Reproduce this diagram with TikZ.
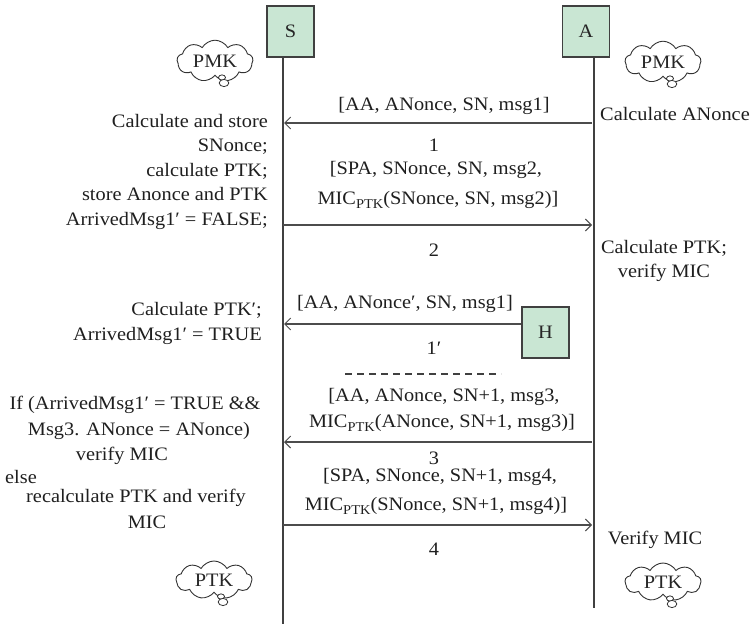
\documentclass[tikz,border=0pt]{standalone}
\usepackage{fontspec}
\setmainfont{Liberation Serif}[FakeStretch=1.07]
\usetikzlibrary{arrows.meta,shapes.symbols,calc}
\newcommand\myptk{\raisebox{-0.22em}{\fontsize{13.5}{13.5}\selectfont PTK}}
\tikzset{
  txt/.style={font=\fontsize{19}{24.5}\selectfont, text=black!88, inner sep=0pt},
  actor/.style={draw=black!75, line width=1.2pt, fill=boxgreen, minimum width=47pt, minimum height=51pt, inner sep=0pt, font=\fontsize{19}{24}\selectfont, text=black!85},
  life/.style={draw=black!75, line width=1.3pt},
  msg/.style={draw=black!70, line width=1.3pt, -{Straight Barb[length=6pt,width=12pt,line width=1pt]}},
  thought/.style={cloud, cloud puffs=9, cloud puff arc=120, aspect=2, draw=black!80, line width=0.9pt, minimum width=76pt, minimum height=38pt, inner sep=0pt, font=\fontsize{19}{24}\selectfont, text=black!85},
  bub/.style={draw=black!80, line width=0.8pt, fill=white}
}
\definecolor{boxgreen}{HTML}{C9E6D3}
\begin{document}
\begin{tikzpicture}[x=1pt,y=-1pt]
\useasboundingbox (0,0) rectangle (753,626);
% actors
\node[actor] (S) at (290.5,31.5) {S};
\node[actor] (A) at (586,31.5) {A};
% lifelines
\coordinate (Stop) at (283,57);
\coordinate (Sbot) at (283,624);
\coordinate (Atop) at (594,57);
\coordinate (Abot) at (594,608);
\draw[life] (Stop) -- (Sbot);
\draw[life] (Atop) -- (Abot);
% clouds
\foreach \n/\x/\y/\t in {c1/215/61/PMK, c2/663/62/PMK, c3/214/580/PTK, c4/663/582/PTK}{
  \node[thought] (\n) at (\x,\y) {\t};
  \draw[bub] ($(\n.center)+(7,16.5)$) ellipse (3.5pt and 2.6pt);
  \draw[bub] ($(\n.center)+(9,22)$) ellipse (4.8pt and 3.6pt);
}
% message 1
\coordinate (m1a) at (592,123);
\coordinate (m1s) at (284,123);
\draw[msg] (m1a) -- (m1s);
\node[txt] (l1) at (444,106) {[AA, ANonce, SN, msg1]};
\node[txt] (n1) at (434,145) {1};
\node[txt,anchor=west] (r1) at (600,114) {Calculate ANonce};
% left block 1
\node[txt,anchor=east,align=right] (b1) at (268,171.5) {Calculate and store\\SNonce;\\calculate PTK;\\store Anonce and PTK\\ArrivedMsg1′ = FALSE;};
% message 2
\coordinate (m2s) at (283,225);
\coordinate (m2a) at (592,225);
\draw[msg] (m2s) -- (m2a);
\node[txt] (l2a) at (436,170) {[SPA, SNonce, SN, msg2,};
\node[txt] (l2b) at (438,200) {MIC\myptk(SNonce, SN, msg2)]};
\node[txt] (n2) at (434,250) {2};
\node[txt,align=center] (r2) at (664,261) {Calculate PTK;\\verify MIC};
% message 1'
\node[actor] (H) at (545.5,332.5) {H};
\coordinate (m1ps) at (284,324);
\draw[msg] (H.west |- m1ps) -- (m1ps);
\node[txt] (l1p) at (405,304) {[AA, ANonce′, SN, msg1]};
\node[txt] (n1p) at (434,348) {1′};
\node[txt,anchor=east,align=right] (b2) at (262,323.5) {Calculate PTK′;\\ArrivedMsg1′ = TRUE};
% dashed separator
\coordinate (d1) at (345,374);
\coordinate (d2) at (501,374);
\draw[draw=black!75, line width=1.1pt, dash pattern=on 7pt off 5pt] (d1) -- (d2);
% message 3
\coordinate (m3a) at (592,442);
\coordinate (m3s) at (284,442);
\draw[msg] (m3a) -- (m3s);
\node[txt] (l3a) at (444,397) {[AA, ANonce, SN+1, msg3,};
\node[txt] (l3b) at (442,423) {MIC\myptk(ANonce, SN+1, msg3)]};
\node[txt] (n3) at (434,458) {3};
% message 4
\coordinate (m4s) at (283,525);
\coordinate (m4a) at (592,525);
\draw[msg] (m4s) -- (m4a);
\node[txt] (l4a) at (440,477) {[SPA, SNonce, SN+1, msg4,};
\node[txt] (l4b) at (436,506) {MIC\myptk(SNonce, SN+1, msg4)]};
\node[txt] (n4) at (434,549) {4};
\node[txt] (r4) at (655,540) {Verify MIC};
% left block 3
\node[txt] (b3a) at (135,405) {If (ArrivedMsg1′ = TRUE \&\&};
\node[txt] (b3b) at (139,431) {Msg3. ANonce = ANonce)};
\node[txt] (b3c) at (122,456) {verify MIC};
\node[txt,anchor=west] (b3d) at (5,477) {else};
\node[txt] (b3e) at (136,498) {recalculate PTK and verify};
\node[txt] (b3f) at (147,522) {MIC};
\end{tikzpicture}
\end{document}
